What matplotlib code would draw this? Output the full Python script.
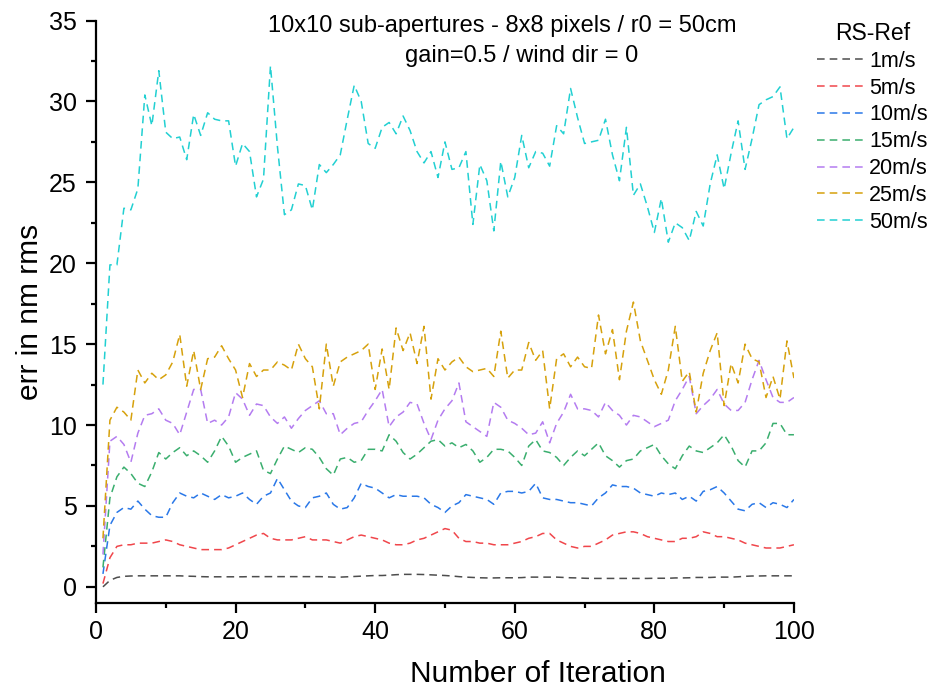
import numpy as np
import matplotlib
matplotlib.use("Agg")
import matplotlib.pyplot as plt
from matplotlib.ticker import MultipleLocator

plt.rcParams['font.family'] = ['Liberation Sans', 'DejaVu Sans']

iterations = list(range(1, 101))

err_1ms = [0.0, 0.40, 0.58, 0.65, 0.67, 0.68, 0.68, 0.68, 0.68, 0.68,
           0.68, 0.68, 0.66, 0.65, 0.63, 0.62, 0.62, 0.62, 0.62, 0.62,
           0.62, 0.63, 0.63, 0.63, 0.63, 0.63, 0.63, 0.63, 0.63, 0.63,
           0.63, 0.63, 0.62, 0.6, 0.6, 0.62, 0.64, 0.66, 0.68, 0.7,
           0.7, 0.72, 0.75, 0.77, 0.77, 0.77, 0.76, 0.74, 0.72, 0.7,
           0.67, 0.63, 0.6, 0.58, 0.56, 0.55, 0.55, 0.56, 0.56, 0.56,
           0.57, 0.6, 0.6, 0.6, 0.6, 0.6, 0.58, 0.56, 0.55, 0.53,
           0.52, 0.52, 0.52, 0.52, 0.52, 0.52, 0.52, 0.52, 0.52, 0.53,
           0.53, 0.53, 0.55, 0.55, 0.56, 0.58, 0.58, 0.58, 0.6, 0.6,
           0.6, 0.62, 0.65, 0.67, 0.67, 0.68, 0.68, 0.68, 0.68, 0.68]

err_5ms = [0.2, 1.8, 2.5, 2.6, 2.6, 2.7, 2.7, 2.7, 2.8, 2.9,
           2.8, 2.6, 2.5, 2.4, 2.3, 2.3, 2.3, 2.3, 2.4, 2.6,
           2.8, 3.0, 3.2, 3.3, 3.0, 2.9, 2.9, 2.9, 3.0, 3.1,
           2.9, 2.9, 2.9, 2.8, 2.7, 2.9, 3.1, 3.2, 3.1, 3.0,
           2.9, 2.7, 2.6, 2.6, 2.7, 2.9, 3.0, 3.2, 3.4, 3.6,
           3.5, 3.0, 2.8, 2.8, 2.7, 2.7, 2.6, 2.6, 2.6, 2.7,
           2.8, 3.0, 3.1, 3.3, 3.3, 2.9, 2.7, 2.5, 2.4, 2.5,
           2.5, 2.7, 2.9, 3.2, 3.3, 3.4, 3.4, 3.3, 3.1, 3.0,
           2.9, 2.8, 2.8, 3.0, 3.0, 3.1, 3.4, 3.3, 3.1, 3.1,
           3.0, 2.9, 2.7, 2.6, 2.5, 2.4, 2.4, 2.4, 2.5, 2.6]

err_10ms = [0.8, 3.8, 4.6, 4.9, 4.8, 5.3, 4.8, 4.4, 4.3, 4.3,
            5.2, 5.8, 5.6, 5.5, 5.8, 5.6, 5.4, 5.7, 5.5, 5.6,
            5.8, 5.4, 5.1, 5.6, 5.8, 6.7, 6.0, 5.3, 5.0, 4.9,
            5.5, 5.6, 5.8, 5.1, 4.8, 4.9, 5.5, 6.4, 6.2, 6.1,
            5.8, 5.5, 5.7, 5.6, 5.6, 5.6, 5.5, 5.1, 4.9, 4.6,
            5.0, 5.2, 5.7, 5.6, 5.5, 5.4, 5.1, 5.8, 5.9, 5.9,
            5.8, 5.9, 6.4, 5.5, 5.4, 5.4, 5.3, 5.2, 5.2, 5.1,
            5.0, 5.5, 5.8, 6.3, 6.2, 6.2, 6.1, 5.8, 5.7, 5.6,
            5.8, 5.7, 5.8, 5.4, 5.6, 5.3, 5.9, 6.0, 6.2, 5.8,
            5.3, 4.8, 4.7, 5.1, 5.2, 4.9, 5.2, 5.1, 4.9, 5.4]

err_15ms = [1.2, 5.5, 6.8, 7.4, 7.0, 6.4, 6.2, 7.1, 8.3, 7.9,
            8.3, 8.6, 8.1, 8.4, 8.1, 7.7, 8.4, 9.3, 8.7, 7.7,
            8.0, 8.2, 8.4, 7.2, 7.0, 7.9, 8.7, 8.5, 8.3, 8.6,
            8.5, 8.0, 7.3, 6.9, 7.9, 8.0, 7.7, 7.8, 8.5, 8.5,
            8.4, 9.4, 9.0, 8.3, 7.9, 8.2, 8.6, 9.0, 9.1, 8.7,
            8.9, 8.6, 8.8, 8.4, 7.7, 8.0, 8.5, 8.5, 8.4, 8.0,
            7.5, 8.7, 9.1, 8.4, 8.3, 8.0, 7.5, 8.0, 8.4, 8.1,
            8.5, 8.9, 8.1, 7.8, 7.4, 7.8, 7.9, 8.4, 8.6, 8.8,
            8.1, 7.6, 7.3, 8.1, 8.7, 8.4, 8.3, 8.6, 8.9, 9.4,
            8.7, 7.8, 7.4, 8.4, 8.4, 8.9, 10.1, 10.1, 9.4, 9.4]

err_20ms = [2.0, 9.0, 9.3, 8.8, 7.7, 9.5, 10.6, 10.7, 11.0, 10.3,
            10.1, 9.4, 10.8, 12.2, 12.2, 10.1, 10.3, 10.0, 10.5, 12.0,
            11.6, 10.6, 11.3, 11.2, 10.5, 10.1, 10.5, 9.8, 10.4, 10.9,
            11.2, 11.5, 10.7, 10.7, 9.4, 9.8, 10.1, 10.2, 10.9, 11.5,
            12.2, 9.9, 10.5, 10.8, 11.4, 11.3, 10.1, 9.1, 10.3, 11.0,
            11.5, 12.6, 10.2, 9.9, 9.6, 9.3, 11.4, 11.1, 10.3, 10.1,
            9.8, 9.4, 9.5, 10.2, 8.9, 10.1, 10.8, 11.9, 11.0, 11.0,
            10.9, 10.5, 11.4, 10.9, 10.6, 10.0, 10.6, 10.5, 10.2, 9.9,
            10.1, 10.3, 11.5, 12.2, 13.0, 10.7, 11.2, 11.6, 12.2, 11.3,
            10.9, 10.9, 11.4, 12.8, 14.0, 12.8, 11.7, 11.4, 11.4, 11.7]

err_25ms = [3.0, 10.3, 11.1, 10.8, 10.3, 13.4, 12.6, 13.2, 12.8, 13.1,
            13.9, 15.6, 12.4, 14.6, 12.2, 14.1, 14.2, 14.9, 14.1, 13.4,
            11.7, 13.8, 13.0, 13.4, 13.4, 13.9, 13.7, 13.4, 15.0, 14.1,
            13.6, 11.0, 15.0, 12.4, 13.9, 14.2, 14.4, 14.6, 15.0, 12.2,
            14.7, 12.2, 16.0, 14.6, 15.7, 13.8, 16.1, 11.6, 14.1, 13.4,
            13.9, 14.2, 13.6, 13.3, 13.4, 13.5, 13.0, 15.8, 12.9, 13.4,
            13.4, 15.1, 14.0, 14.6, 11.0, 14.1, 14.4, 13.6, 14.2, 13.6,
            13.5, 16.8, 14.4, 15.9, 12.8, 15.8, 17.6, 15.2, 14.0, 12.8,
            11.9, 13.4, 16.1, 12.7, 13.3, 10.8, 13.2, 14.6, 15.7, 11.2,
            13.8, 12.6, 15.0, 14.1, 13.9, 11.7, 13.0, 11.6, 15.2, 12.9]

err_50ms = [12.5, 19.9, 19.9, 23.4, 23.3, 24.6, 30.4, 28.5, 31.9, 28.1,
            27.7, 27.8, 26.4, 29.2, 27.9, 29.3, 28.9, 28.8, 28.8, 26.0,
            27.4, 26.9, 24.1, 25.2, 32.2, 27.2, 23.0, 23.3, 24.9, 24.8,
            23.3, 26.1, 25.6, 26.1, 26.7, 28.9, 31.0, 30.0, 27.4, 27.1,
            28.4, 28.7, 28.0, 29.1, 28.2, 26.9, 26.2, 26.9, 25.3, 27.5,
            25.8, 25.9, 26.9, 22.4, 26.1, 25.1, 22.0, 26.3, 24.1, 25.3,
            27.9, 25.9, 26.9, 26.8, 26.0, 28.5, 28.0, 30.8, 29.0, 27.4,
            27.5, 27.6, 28.9, 26.7, 25.1, 28.4, 24.2, 24.9, 23.5, 21.9,
            24.0, 21.3, 22.5, 22.2, 21.4, 23.2, 22.3, 24.9, 26.7, 24.6,
            26.8, 28.8, 25.8, 27.7, 29.8, 30.1, 30.3, 30.9, 27.7, 28.4]

series_labels = ['1m/s', '5m/s', '10m/s', '15m/s', '20m/s', '25m/s', '50m/s']
series_colors = ['#4d4d4d', '#f0464b', '#2a78e8', '#3aae6e',
                 '#b47cf0', '#d6a10c', '#22d0d2']
series_values = [err_1ms, err_5ms, err_10ms, err_15ms,
                 err_20ms, err_25ms, err_50ms]

fig = plt.figure(figsize=(9.30, 6.89), dpi=100)
ax = fig.add_axes([0.1032, 0.1248, 0.7505, 0.8454])

for vals, col, lab in zip(series_values, series_colors, series_labels):
    ax.plot(iterations, vals, color=col, lw=1.1, dashes=(5.0, 3.3),
            label=lab)

ax.set_xlim(0, 100)
ax.set_ylim(-1, 35)
ax.xaxis.set_major_locator(MultipleLocator(20))
ax.xaxis.set_minor_locator(MultipleLocator(10))
ax.yaxis.set_major_locator(MultipleLocator(5))
ax.yaxis.set_minor_locator(MultipleLocator(2.5))

for side in ('top', 'right'):
    ax.spines[side].set_visible(False)
for side in ('left', 'bottom'):
    ax.spines[side].set_linewidth(1.6)

ax.tick_params(which='major', direction='out', length=7.2, width=1.6,
               labelsize=18, pad=5)
ax.tick_params(which='minor', direction='out', length=3.8, width=1.6)
ax.tick_params(axis='y', which='major', pad=6.5)

ax.set_xlabel('Number of Iteration', fontsize=21.5)
ax.xaxis.set_label_coords(0.633, -0.098)
ax.set_ylabel('err in nm rms', fontsize=21.5)
ax.yaxis.set_label_coords(-0.0745, 0.5)

fig.text(502.5 / 930, 1 - 32 / 689,
         '10x10 sub-apertures - 8x8 pixels / r0 = 50cm',
         ha='center', va='baseline', fontsize=17)
fig.text(521.5 / 930, 1 - 62 / 689, 'gain=0.5 / wind dir = 0',
         ha='center', va='baseline', fontsize=17)

handles, labels = ax.get_legend_handles_labels()
fig.legend(handles, labels, title='RS-Ref', loc='upper left',
           bbox_to_anchor=(817 / 930, 1 - 22 / 689), frameon=False,
           fontsize=15.5, title_fontsize=16.5, borderpad=0,
           borderaxespad=0, handlelength=2.14, handletextpad=0.28,
           labelspacing=0.27)

fig.savefig('out.png', dpi=100)
